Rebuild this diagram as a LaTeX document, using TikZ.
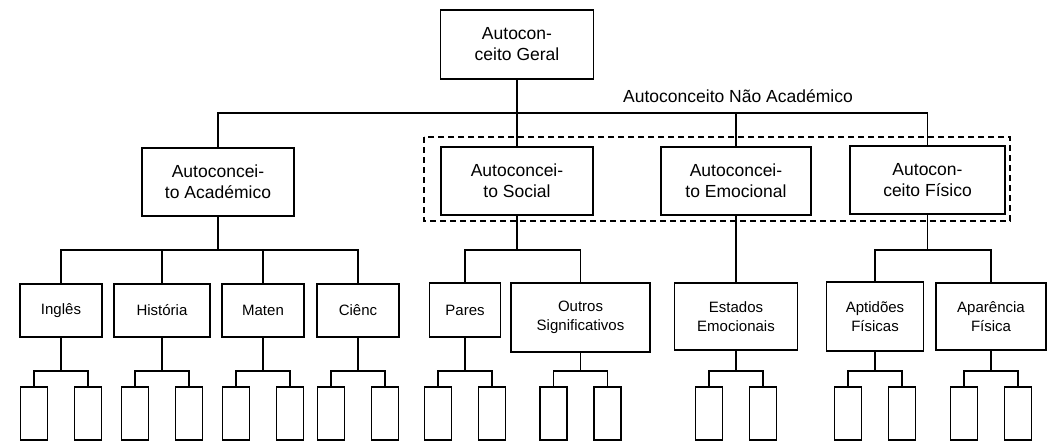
\documentclass[tikz,border=0pt]{standalone}
\usepackage{fontspec}
\setmainfont{Liberation Sans}
\usetikzlibrary{calc}
\begin{document}
\begin{tikzpicture}[x=1pt,y=-1pt,
  ln/.style={line width=1.8pt},
  bigbox/.style={draw, line width=1.8pt, align=center, inner sep=0pt, outer sep=0pt, font=\fontsize{17.5}{21}\selectfont},
  subbox/.style={draw, line width=1.8pt, align=center, inner sep=0pt, outer sep=0pt, font=\fontsize{15}{19}\selectfont},
  leaf/.style={draw, line width=1.8pt, inner sep=0pt, outer sep=0pt, minimum width=27pt, minimum height=53pt},
  lbl/.style={inner sep=0pt, font=\fontsize{17.5}{21}\selectfont},
  grp/.style={line width=1.6pt, dash pattern=on 6pt off 4pt}]
\useasboundingbox (0,0) rectangle (1054,443);
% level 1
\node[bigbox, minimum width=153pt, minimum height=69pt] (geral) at (517,44.5) {Autocon-\\ceito Geral};
% level 2
\node[bigbox, minimum width=152pt, minimum height=68pt] (acad) at (218,182) {Autoconcei-\\to Académico};
\node[bigbox, minimum width=152pt, minimum height=68pt] (social) at (517,181) {Autoconcei-\\to Social};
\node[bigbox, minimum width=150pt, minimum height=68pt] (emo) at (736,181) {Autoconcei-\\to Emocional};
\node[bigbox, minimum width=155pt, minimum height=68pt] (fis) at (927.5,180) {Autocon-\\ceito Físico};
\node[lbl] (naolbl) at (738,96) {Autoconceito Não Académico};
% dashed group
\draw[grp] (424,137) rectangle (1010,221);
% level 3
\node[subbox, minimum width=82pt, minimum height=53pt] (ingles) at (61,310.5) {Inglês};
\node[subbox, minimum width=96pt, minimum height=53pt] (hist) at (162,310.5) {História};
\node[subbox, minimum width=82pt, minimum height=53pt] (maten) at (263,310.5) {Maten};
\node[subbox, minimum width=82pt, minimum height=53pt] (cienc) at (358,310.5) {Ciênc};
\node[subbox, minimum width=71pt, minimum height=54pt] (pares) at (465,310) {Pares};
\node[subbox, minimum width=139pt, minimum height=69pt] (outros) at (580.5,317.5) {Outros\\Significativos};
\node[subbox, minimum width=123pt, minimum height=67pt] (estados) at (736,316.5) {Estados\\Emocionais};
\node[subbox, minimum width=97pt, minimum height=69pt] (apt) at (875,316.5) {Aptidões\\Físicas};
\node[subbox, minimum width=110pt, minimum height=67pt] (apar) at (991,316.5) {Aparência\\Física};
% bar levels
\coordinate (b1) at (0,113);
\coordinate (b2) at (0,250);
\coordinate (b3) at (0,371);
% connectors level 1-2
\draw[ln] (geral.south) -- (geral.south |- social.north);
\draw[ln] (acad.north) -- (acad.north |- b1) -- (fis.north |- b1) -- (fis.north);
\draw[ln] (emo.north) -- (emo.north |- b1);
% connectors level 2-3
\draw[ln] (acad.south) -- (acad.south |- b2);
\draw[ln] (ingles.north) -- (ingles.north |- b2) -- (cienc.north |- b2) -- (cienc.north);
\draw[ln] (hist.north) -- (hist.north |- b2);
\draw[ln] (maten.north) -- (maten.north |- b2);
\draw[ln] (social.south) -- (social.south |- b2);
\draw[ln] (pares.north) -- (pares.north |- b2) -- (outros.north |- b2) -- (outros.north);
\draw[ln] (emo.south) -- (emo.south |- estados.north);
\draw[ln] (fis.south) -- (fis.south |- b2);
\draw[ln] (apt.north) -- (apt.north |- b2) -- (apar.north |- b2) -- (apar.north);
% leaves
\foreach \p in {ingles,hist,maten,cienc,pares,outros,estados,apt,apar}{
  \node[leaf] (\p L) at ($(\p.south |- 0,413.5)+(-27,0)$) {};
  \node[leaf] (\p R) at ($(\p.south |- 0,413.5)+(27,0)$) {};
  \draw[ln] (\p.south) -- (\p.south |- b3);
  \draw[ln] (\p L.north) -- (\p L.north |- b3) -- (\p R.north |- b3) -- (\p R.north);
}
\end{tikzpicture}
\end{document}
